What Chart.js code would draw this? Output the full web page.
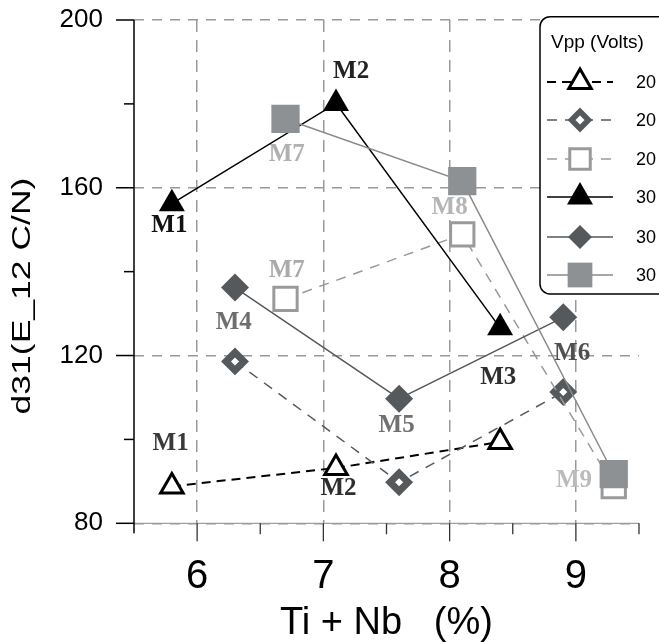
<!DOCTYPE html>
<html><head><meta charset="utf-8">
<script src="https://cdn.jsdelivr.net/npm/chart.js@4.4.1/dist/chart.umd.min.js"></script>
<style>html,body{margin:0;padding:0;background:#fff;overflow:hidden}canvas{display:block}</style>
</head><body>
<canvas id="c" width="659" height="642"></canvas>
<script>
// ---- data ----
const tiNbM123 = [5.8, 7.1, 8.4];
const tiNbM456 = [6.3, 7.6, 8.9];
const tiNbM789 = [6.7, 8.1, 9.3];
const d31_20V_M123 = [88.8, 93.2, 99.4];
const d31_20V_M456 = [118.6, 89.8, 111.3];
const d31_20V_M789 = [133.5, 148.9, 88.9];
const d31_30V_M123 = [156.2, 180.1, 126.6];
const d31_30V_M456 = [136.2, 109.7, 129.1];
const d31_30V_M789 = [176.4, 161.6, 91.7];
const seriesLabels = ['20', '20', '20', '30', '30', '30'];
const xTickLabels = [6, 7, 8, 9];
const yTickLabels = [80, 120, 160, 200];
const legendTitle = 'Vpp (Volts)';
const xTitle = 'Ti + Nb   (%)';
const yTitle = 'd31(E_12 C/N)';
// sample-name annotations (anchored in data units)
const pointNames = ['M1', 'M2', 'M7', 'M8', 'M7', 'M4', 'M1', 'M2', 'M5', 'M3', 'M6', 'M9'];
const pointNameX = [5.78, 7.22, 6.71, 8.0, 6.71, 6.29, 5.79, 7.12, 7.58, 8.385, 8.97, 8.985];
const pointNameY = [150.9, 187.6, 167.9, 155.2, 140.2, 127.9, 99.0, 88.3, 103.4, 114.8, 120.4, 90.1];
const pointNameColor = ['#111', '#222', '#b0b0b0', '#b5b5b5', '#aaaaaa', '#6e6e6e', '#3a3a3a', '#2e2e2e', '#707070', '#2e2e2e', '#505050', '#bbbbbb'];

const mk = (xs, ys) => xs.map((x, i) => ({x: x, y: ys[i]}));
const DARK = '#55595c', SQ = '#8e9194', LG = '#9a9a9a';

const datasets = [
  {label: seriesLabels[0], data: mk(tiNbM123, d31_20V_M123), borderColor: '#000', borderWidth: 2, borderDash: [9, 6],
   pointStyle: 'triangle', pointRadius: 13, pointBorderWidth: 3, pointBorderColor: '#000', pointBackgroundColor: '#fff', order: 6,
   legendRadius: 13, legendBorder: 3},
  {label: seriesLabels[1], data: mk(tiNbM456, d31_20V_M456), borderColor: DARK, borderWidth: 1.5, borderDash: [10, 8],
   pointStyle: 'rectRot', pointRadius: 9, pointBorderWidth: 7, pointBorderColor: DARK, pointBackgroundColor: '#fff', order: 5,
   legendRadius: 8.5, legendBorder: 5.5},
  {label: seriesLabels[2], data: mk(tiNbM789, d31_20V_M789), borderColor: LG, borderWidth: 1.5, borderDash: [10, 8],
   pointStyle: 'rect', pointRadius: 16.5, pointBorderWidth: 3, pointBorderColor: LG, pointBackgroundColor: '#fff', order: 4,
   legendRadius: 14.5, legendBorder: 3},
  {label: seriesLabels[3], data: mk(tiNbM123, d31_30V_M123), borderColor: '#000', borderWidth: 1.5, borderDash: [],
   pointStyle: 'triangle', pointRadius: 15, pointBorderWidth: 0, pointBorderColor: '#000', pointBackgroundColor: '#000', order: 3,
   legendRadius: 15, legendBorder: 0},
  {label: seriesLabels[4], data: mk(tiNbM456, d31_30V_M456), borderColor: DARK, borderWidth: 1.5, borderDash: [],
   pointStyle: 'rectRot', pointRadius: 14, pointBorderWidth: 0, pointBorderColor: DARK, pointBackgroundColor: DARK, order: 2,
   legendRadius: 12, legendBorder: 0},
  {label: seriesLabels[5], data: mk(tiNbM789, d31_30V_M789), borderColor: '#8a8a8a', borderWidth: 1.5, borderDash: [],
   pointStyle: 'rect', pointRadius: 20, pointBorderWidth: 0, pointBorderColor: SQ, pointBackgroundColor: SQ, order: 1,
   legendRadius: 17.5, legendBorder: 0}
];
datasets.forEach(d => { d.showLine = true; d.fill = false; d.tension = 0; });

const SANS = '"Liberation Sans", Arial, Helvetica, sans-serif';

function marker(ctx, style, r, bw, x, y) {
  const dp = Chart.helpers && Chart.helpers.drawPoint;
  if (dp) { dp(ctx, {pointStyle: style, rotation: 0, radius: r, borderWidth: bw}, x, y); return; }
  ctx.beginPath();
  if (style === 'triangle') { ctx.moveTo(x, y - r); ctx.lineTo(x + 0.866 * r, y + r / 2); ctx.lineTo(x - 0.866 * r, y + r / 2); ctx.closePath(); }
  else if (style === 'rectRot') { ctx.moveTo(x - r, y); ctx.lineTo(x, y - r); ctx.lineTo(x + r, y); ctx.lineTo(x, y + r); ctx.closePath(); }
  else { const s = Math.SQRT1_2 * r; ctx.rect(x - s, y - s, 2 * s, 2 * s); }
  ctx.fill(); if (bw > 0) ctx.stroke();
}

const decor = {
  id: 'decor',
  beforeDraw(chart) {
    const {ctx, scales: {x, y}} = chart;
    const y0 = y.getPixelForValue(y.min);
    ctx.save();
    ctx.strokeStyle = '#a0a0a0'; ctx.lineWidth = 1.2;
    ctx.beginPath(); ctx.moveTo(x.getPixelForValue(x.min), y0); ctx.lineTo(x.getPixelForValue(x.max), y0); ctx.stroke();
    ctx.restore();
  },
  beforeDatasetsDraw(chart) {
    const {ctx, scales: {x, y}} = chart;
    const x0 = x.getPixelForValue(x.min), y0 = y.getPixelForValue(y.min), yTop = y.getPixelForValue(y.max);
    ctx.save();
    ctx.setLineDash([]);
    ctx.strokeStyle = '#000'; ctx.lineWidth = 1.5;
    ctx.beginPath(); ctx.moveTo(x0, yTop); ctx.lineTo(x0, y0 + 10); ctx.stroke();
    y.ticks.forEach(t => {
      const py = y.getPixelForValue(t.value);
      const len = yTickLabels.includes(t.value) ? 18 : 10;
      ctx.beginPath(); ctx.moveTo(x0 - len, py); ctx.lineTo(x0, py); ctx.stroke();
    });
    ctx.strokeStyle = '#333'; ctx.lineWidth = 1.3;
    x.ticks.forEach(t => {
      if (t.value === x.min) return;
      const px = x.getPixelForValue(t.value);
      const len = xTickLabels.includes(t.value) ? 18 : 11;
      ctx.beginPath(); ctx.moveTo(px, y0); ctx.lineTo(px, y0 + len); ctx.stroke();
    });
    ctx.font = 'bold 25px "Liberation Serif", "Times New Roman", serif';
    ctx.textAlign = 'center'; ctx.textBaseline = 'middle';
    pointNames.forEach((n, i) => {
      ctx.fillStyle = pointNameColor[i];
      ctx.fillText(n, x.getPixelForValue(pointNameX[i]), y.getPixelForValue(pointNameY[i]));
    });
    ctx.restore();
  },
  afterDraw(chart) {
    const {ctx} = chart;
    // y axis title (stretched along its length like the reference)
    ctx.save();
    ctx.translate(23, 296); ctx.rotate(-Math.PI / 2); ctx.scale(1.42, 1);
    ctx.font = '25px ' + SANS; ctx.fillStyle = '#000';
    ctx.textAlign = 'center'; ctx.textBaseline = 'middle';
    ctx.fillText(yTitle, 0, 0);
    ctx.restore();
    // legend
    ctx.save();
    const L = 540, T = 16.7, R = 675, B = 294, rad = 10;
    ctx.beginPath();
    ctx.moveTo(L + rad, T); ctx.lineTo(R, T); ctx.lineTo(R, B); ctx.lineTo(L + rad, B);
    ctx.arcTo(L, B, L, B - rad, rad); ctx.lineTo(L, T + rad); ctx.arcTo(L, T, L + rad, T, rad); ctx.closePath();
    ctx.fillStyle = '#fff'; ctx.fill();
    ctx.strokeStyle = '#000'; ctx.lineWidth = 1.5; ctx.stroke();
    ctx.fillStyle = '#000'; ctx.font = '19px ' + SANS; ctx.textAlign = 'left'; ctx.textBaseline = 'alphabetic';
    ctx.fillText(legendTitle, 551, 48);
    const rows = [82, 120, 159, 197, 237, 275];
    chart.data.datasets.forEach((d, i) => {
      const ry = rows[i];
      ctx.save();
      ctx.strokeStyle = d.borderColor; ctx.lineWidth = d.borderWidth; ctx.setLineDash(d.borderDash || []);
      ctx.beginPath(); ctx.moveTo(547, ry); ctx.lineTo(613, ry); ctx.stroke();
      ctx.setLineDash([]);
      ctx.fillStyle = d.pointBackgroundColor; ctx.strokeStyle = d.pointBorderColor; ctx.lineWidth = d.legendBorder;
      marker(ctx, d.pointStyle, d.legendRadius, d.legendBorder, 580, ry);
      ctx.restore();
      ctx.fillStyle = '#000'; ctx.font = '18px ' + SANS; ctx.textAlign = 'left'; ctx.textBaseline = 'middle';
      ctx.fillText(d.label, 636, ry + 1);
    });
    ctx.restore();
  }
};

new Chart(document.getElementById('c'), {
  type: 'scatter',
  data: {datasets: datasets},
  options: {
    responsive: false,
    animation: false,
    events: [],
    layout: {padding: {top: 18.4, right: 15.5, bottom: 0, left: 0}},
    plugins: {legend: {display: false}, tooltip: {enabled: false}},
    scales: {
      x: {
        type: 'linear', min: 5.5, max: 9.5,
        ticks: {stepSize: 0.5, autoSkip: false, maxRotation: 0, minRotation: 0, padding: 30, color: '#000',
                font: {family: SANS, size: 40},
                callback: v => xTickLabels.includes(v) ? String(v) : ''},
        grid: {drawTicks: false, lineWidth: 1.5,
               color: c => (c.tick && xTickLabels.includes(c.tick.value)) ? '#999' : 'rgba(0,0,0,0)'},
        border: {display: false, dash: [12, 8]},
        title: {display: true, text: xTitle, color: '#000', font: {family: SANS, size: 38}, padding: {top: 0, bottom: -4}},
        afterFit: s => { s.height = 118.7; s.paddingLeft = 0; s.paddingRight = 0; }
      },
      y: {
        type: 'linear', min: 80, max: 200,
        ticks: {stepSize: 20, autoSkip: false, padding: 31, color: '#000', font: {family: SANS, size: 26},
                callback: v => yTickLabels.includes(v) ? String(v) : ''},
        grid: {drawTicks: false, lineWidth: 1.5,
               color: c => (c.tick && yTickLabels.includes(c.tick.value)) ? '#999' : 'rgba(0,0,0,0)'},
        border: {display: false, dash: [10, 8]},
        title: {display: false},
        afterFit: s => { s.width = 134; s.paddingTop = 0; s.paddingBottom = 0; }
      }
    }
  },
  plugins: [decor]
});
</script>
</body></html>
